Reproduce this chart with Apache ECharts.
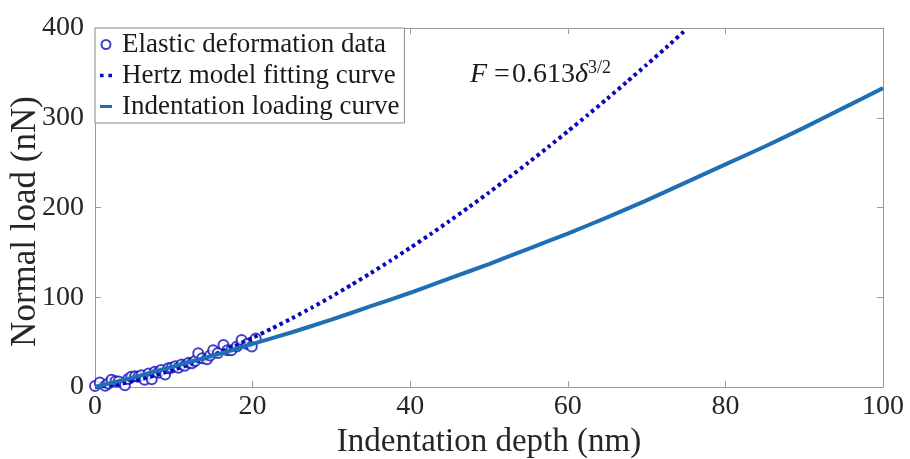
<!DOCTYPE html>
<html>
<head>
<meta charset="utf-8">
<script src="https://cdn.jsdelivr.net/npm/echarts@6/dist/echarts.min.js"></script>
<style>
  html, body { margin: 0; padding: 0; background: #fff; }
  #chart { width: 910px; height: 459px; }
</style>
</head>
<body>
<div id="chart"></div>
<script>
// Measured elastic deformation points (depth in nm, load in nN)
const elasticDepth = [0, 0.6, 1.3, 1.7, 2.1, 2.6, 3.0, 3.8, 4.2, 4.6, 5.1, 5.5, 5.9, 6.3, 6.8, 7.2, 7.6, 8.0, 8.4, 8.9, 9.3, 9.7, 10.2, 10.6, 11.0, 11.4, 11.9, 12.3, 12.7, 13.1, 13.6, 14.2, 14.6, 15.0, 15.6, 16.3, 16.8, 17.3, 18.0, 18.6, 19.3, 19.9, 20.4];
const elasticLoad  = [1, 5, 1.5, 4, 8, 6.5, 6, 2, 9, 11.5, 12, 11.5, 13, 8, 15, 8.5, 17, 16, 19, 14, 21, 21.5, 23, 21.5, 25, 23.7, 27, 26.4, 29, 37.5, 32, 30.8, 35, 41, 38, 46.8, 41, 41, 45, 52.4, 48, 45, 54];

// Hertz model fitting curve, F = 0.613 δ^(3/2)
const hertzDepth = [0, 2.5, 5, 7.5, 10, 12.5, 15, 17.5, 20, 22.5, 25, 27.5, 30, 32.5, 35, 37.5, 40, 42.5, 45, 47.5, 50, 52.5, 55, 57.5, 60, 62.5, 65, 67.5, 70, 72.5, 75];
const hertzLoad  = [0, 2.4, 6.9, 12.6, 19.4, 27.1, 35.6, 44.9, 54.8, 65.4, 76.6, 88.4, 100.7, 113.6, 126.9, 140.8, 155.1, 169.8, 185.1, 200.7, 216.7, 233.2, 250.0, 267.3, 284.9, 302.9, 321.2, 340.0, 359.0, 378.4, 398.2];

// Indentation loading curve
const loadingDepth = [0, 5, 10, 15, 20, 25, 30, 35, 40, 45, 50, 55, 60, 65, 70, 75, 80, 85, 90, 95, 100];
const loadingLoad  = [0, 11, 23, 35, 48, 61, 75, 90, 105, 121, 137, 154, 171, 189, 208, 228, 248, 268, 289, 311, 333];

const xTicks = [0, 20, 40, 60, 80, 100];
const yTicks = [0, 100, 200, 300, 400];

const seriesNames = ['Elastic deformation data', 'Hertz model fitting curve', 'Indentation loading curve'];

const FONT = '"Liberation Serif", "Times New Roman", serif';
const AXIS_GRAY = '#9a9a9a';
const TEXT = '#262626';

const pairs = (xs, ys) => xs.map((x, i) => [x, ys[i]]);

const chart = echarts.init(document.getElementById('chart'));

const baseAxis = {
  type: 'value',
  axisLine: { show: true, onZero: false, lineStyle: { color: AXIS_GRAY, width: 1 } },
  axisTick: { show: true, inside: true, length: 6, lineStyle: { color: AXIS_GRAY } },
  splitLine: { show: false }
};

chart.setOption({
  backgroundColor: '#ffffff',
  animation: false,
  grid: { left: 95, right: 27, top: 28, bottom: 72, containLabel: false, outerBoundsMode: 'none' },
  legend: {
    orient: 'vertical',
    left: 95,
    top: 28,
    data: [
      { name: seriesNames[0], icon: 'emptyCircle' },
      { name: seriesNames[1], icon: 'path://M0,0h3v3h-3zM7,0h3v3h-3z' },
      { name: seriesNames[2], icon: 'path://M0,0h12v3h-12z' }
    ],
    symbolKeepAspect: true,
    itemWidth: 12,
    itemHeight: 9,
    itemGap: 4,
    padding: [3, 5, 3, 5],
    backgroundColor: '#ffffff',
    borderColor: '#8a8a8a',
    borderWidth: 1,
    borderRadius: 0,
    textStyle: { fontFamily: FONT, fontSize: 27, color: '#1a1a1a', padding: [0, 0, 0, 5] }
  },
  xAxis: [
    Object.assign({}, baseAxis, {
      position: 'bottom',
      min: 0, max: 100, interval: 20,
      name: 'Indentation depth (nm)',
      nameLocation: 'middle',
      nameGap: 39,
      nameTextStyle: { fontFamily: FONT, fontSize: 33, color: TEXT },
      axisLabel: {
        fontFamily: FONT, fontSize: 28, color: TEXT, margin: 6,
        customValues: xTicks
      }
    }),
    Object.assign({}, baseAxis, {
      position: 'top',
      min: 0, max: 100, interval: 20,
      axisLabel: { show: false }
    })
  ],
  yAxis: [
    Object.assign({}, baseAxis, {
      position: 'left',
      min: 0, max: 400, interval: 100,
      name: 'Normal load (nN)',
      nameLocation: 'middle',
      nameGap: 52,
      nameMoveOverlap: false,
      nameTextStyle: { fontFamily: FONT, fontSize: 35, color: TEXT, padding: [0, 28, 0, 0] },
      axisLabel: {
        fontFamily: FONT, fontSize: 28, color: TEXT, margin: 11,
        customValues: yTicks
      }
    }),
    Object.assign({}, baseAxis, {
      position: 'right',
      min: 0, max: 400, interval: 100,
      axisLabel: { show: false }
    })
  ],
  series: [
    {
      name: seriesNames[0],
      type: 'scatter',
      data: pairs(elasticDepth, elasticLoad),
      symbol: 'emptyCircle',
      symbolSize: 10,
      itemStyle: { color: '#1010c0', borderColor: '#1010c0', borderWidth: 2.8 },
      z: 2
    },
    {
      name: seriesNames[1],
      type: 'line',
      data: pairs(hertzDepth, hertzLoad),
      symbol: 'none',
      smooth: 0.2,
      clip: true,
      lineStyle: { color: '#0808bf', width: 4, type: [3.5, 3.5], cap: 'butt' },
      itemStyle: { color: '#0808bf' },
      z: 3
    },
    {
      name: seriesNames[2],
      type: 'line',
      data: pairs(loadingDepth, loadingLoad),
      symbol: 'none',
      smooth: 0.2,
      lineStyle: { color: '#1e6fb4', width: 4 },
      itemStyle: { color: '#1e6fb4' },
      z: 4
    }
  ],
  graphic: [
    {
      type: 'text',
      left: 470,
      top: 59,
      style: {
        text: '{i|F} ={n|0.613}{i|δ}{sup|3/2}',
        font: '28px ' + FONT,
        fill: '#1a1a1a',
        rich: {
          n: { fontFamily: FONT, fontSize: 28, fill: '#1a1a1a', padding: [0, 0, 0, 2] },
          i: { fontFamily: FONT, fontSize: 28, fontStyle: 'italic', fill: '#1a1a1a' },
          sup: { fontFamily: FONT, fontSize: 18, fill: '#1a1a1a', verticalAlign: 'top', padding: [0, 0, 14, 0] }
        }
      },
      z: 10
    }
  ]
});
</script>
</body>
</html>
